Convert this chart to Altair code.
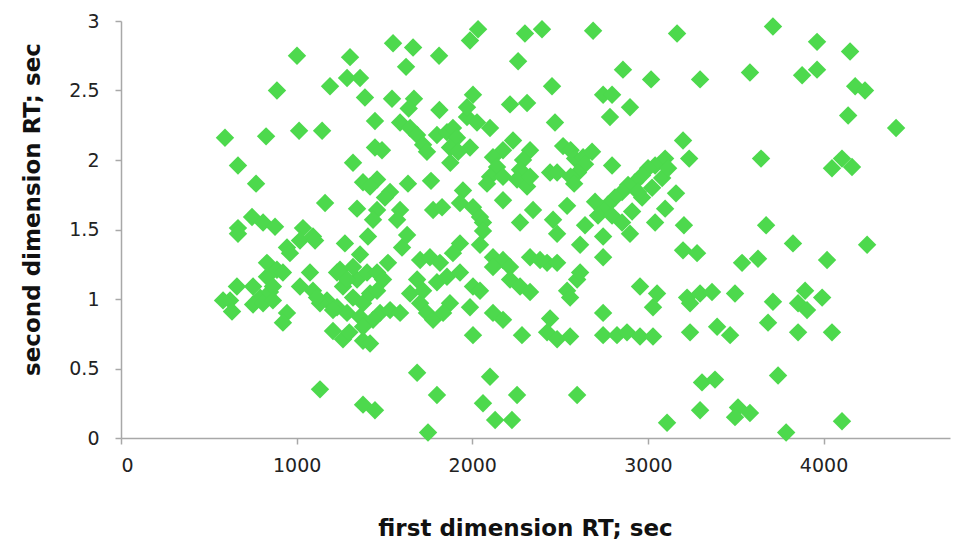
import altair as alt
import pandas as pd

# Response times: first dimension (x) and second dimension (y)
first_rt = [
    # upper-left region
    1549, 1663, 1811, 1002, 1304, 1623, 888, 1190, 1287, 1361, 1389, 1543, 1668, 1638, 1813, 1446,
    592, 826, 1014, 1145, 1446, 1486, 666, 1321, 1875,
    769, 1378, 1458, 1418, 1532, 1503, 1634, 1765, 1162, 1344, 1458, 1435, 1589, 1572, 1777, 1828,
    746, 666, 809, 877, 1036,
    1589, 1646, 1686, 1720, 1742, 1799, 1856, 1890, 1913, 1873,
    # centre cluster
    1970, 2027, 2101, 2471, 1987, 1920,
    2232, 2175, 2118, 2141, 2101, 2175, 2084, 2329, 2289, 2272, 2255, 2312, 2329, 2443, 2483,
    1947, 1930, 2004, 2044, 2175, 2346, 2272, 2460,
    1987, 2033, 2300, 2397, 2688, 3166, 2261, 2858, 3018, 2454, 2745, 2796, 2898, 2784, 2004, 1970,
    2215, 2312, 2061,
    2517, 2560, 2585, 2631, 2682, 2642, 2602, 2560, 2580,
    # right diagonal band
    2796, 3098, 3041, 3001, 2967, 2927, 2887, 2853, 2813, 2773, 2739, 2699, 2716, 2796, 2853, 2910,
    2967, 3024, 3081, 3115, 2944, 3160, 3098, 2540, 3041, 2642, 3200, 3235,
    # upper-right region
    3712, 3963, 4151, 3581, 3297, 3878, 3963, 4180, 4236, 4140, 4413, 3644, 4048, 4105, 4162, 3205, 3673,
    # lower-left region
    666, 660, 621, 581, 632, 752, 792, 752, 809, 848, 831, 831, 888, 922,
    945, 1019, 1093, 962, 1275, 1406, 1361, 1520, 1600, 1629, 1703, 1759, 1816, 865, 865, 945, 922,
    1076, 1019, 1093, 1173, 1230, 1287, 1230, 1264, 1344, 1401, 1458, 1321, 1378, 1361, 1492, 1475,
    1532, 1589, 1418,
    1686, 1646, 1703, 1742, 1777, 1799, 1856,
    1105, 1207, 1247, 1287, 1321, 1435, 1458, 1133, 1116, 1720,
    1207, 1264, 1300, 1378, 1418, 1378,
    1686, 1133, 1378, 1446, 1799, 1748,
    # lower-centre region
    2061, 2483, 2614, 2745, 2898, 3200, 1930, 1890, 2044, 2118, 2175, 2215, 2118, 2329, 2426, 2483,
    2386, 2745, 1930, 2004, 2044, 2215, 2272, 2329, 2540, 2597, 2614, 2557, 2955, 3052, 3029, 3223,
    1873, 1834, 1987, 2118, 2175, 2443, 2426, 2483, 2557, 2004, 2283, 2745, 2745, 2824, 2881, 2955,
    3029, 3240, 2101, 2061, 2255, 2597, 2130, 2226, 3109,
    # lower-right region
    3826, 4248, 3280, 3536, 3627, 4020, 3297, 3365, 3240, 3496, 3712, 3895, 3855, 3906, 3992, 3684,
    3394, 3468, 3855, 4048, 3308, 3382, 3741, 3297, 3513, 3581, 3496, 4105, 3787,
]

second_rt = [
    2.84, 2.81, 2.75, 2.75, 2.74, 2.67, 2.50, 2.53, 2.59, 2.59, 2.45, 2.44, 2.44, 2.37, 2.36, 2.28,
    2.16, 2.17, 2.21, 2.21, 2.09, 2.07, 1.96, 1.98, 1.98,
    1.83, 1.84, 1.86, 1.81, 1.77, 1.73, 1.83, 1.85, 1.69, 1.65, 1.64, 1.57, 1.64, 1.57, 1.64, 1.66,
    1.59, 1.51, 1.55, 1.52, 1.51,
    2.27, 2.23, 2.18, 2.11, 2.06, 2.18, 2.20, 2.23, 2.16, 2.09,
    2.31, 2.27, 2.23, 2.27, 2.09, 2.06,
    2.14, 2.07, 2.02, 1.95, 1.88, 1.88, 1.83, 2.07, 2.00, 1.93, 1.86, 1.81, 1.88, 1.91, 1.91,
    1.78, 1.69, 1.66, 1.59, 1.71, 1.64, 1.55, 1.57,
    2.86, 2.94, 2.91, 2.94, 2.93, 2.91, 2.71, 2.65, 2.58, 2.53, 2.47, 2.47, 2.38, 2.31, 2.47, 2.38,
    2.40, 2.41, 1.55,
    2.10, 2.07, 2.01, 2.02, 2.06, 1.97, 1.91, 1.88, 1.83,
    1.96, 2.01, 1.96, 1.94, 1.89, 1.84, 1.82, 1.77, 1.73, 1.68, 1.65, 1.70, 1.60, 1.60, 1.55, 1.63,
    1.73, 1.80, 1.87, 1.94, 1.77, 1.76, 1.65, 1.67, 1.55, 1.53, 2.14, 2.01,
    2.96, 2.85, 2.78, 2.63, 2.58, 2.61, 2.65, 2.53, 2.50, 2.32, 2.23, 2.01, 1.94, 2.01, 1.95, 1.53, 1.53,
    1.47, 1.09, 0.99, 0.99, 0.91, 1.09, 1.01, 0.96, 0.97, 1.05, 1.16, 1.26, 1.21, 1.19,
    1.37, 1.42, 1.45, 1.33, 1.40, 1.45, 1.32, 1.26, 1.37, 1.46, 1.28, 1.30, 1.26, 1.09, 0.99, 0.90, 0.83,
    1.19, 1.09, 1.06, 0.99, 0.94, 0.90, 1.19, 1.09, 1.14, 1.19, 1.19, 1.01, 0.97, 0.87, 1.14, 0.90,
    0.92, 0.90, 1.04,
    1.14, 1.04, 0.97, 0.90, 0.85, 1.12, 1.16,
    1.42, 0.92, 1.21, 1.14, 1.23, 0.85, 1.06, 0.97, 1.01, 1.06,
    0.77, 0.71, 0.76, 0.70, 0.68, 0.80,
    0.47, 0.35, 0.24, 0.20, 0.31, 0.04,
    1.49, 1.47, 1.39, 1.45, 1.47, 1.35, 1.40, 1.33, 1.39, 1.30, 1.28, 1.23, 1.23, 1.30, 1.26, 1.26,
    1.28, 1.30, 1.19, 1.09, 1.06, 1.14, 1.09, 1.05, 1.06, 1.14, 1.19, 1.01, 1.09, 1.04, 0.94, 1.01,
    0.97, 0.90, 0.94, 0.90, 0.85, 0.86, 0.76, 0.71, 0.73, 0.74, 0.74, 0.90, 0.74, 0.74, 0.76, 0.73,
    0.73, 0.76, 0.44, 0.25, 0.31, 0.31, 0.13, 0.13, 0.11,
    1.40, 1.39, 1.33, 1.26, 1.29, 1.28, 1.04, 1.05, 0.97, 1.04, 0.98, 1.06, 0.97, 0.92, 1.01, 0.83,
    0.80, 0.74, 0.76, 0.76, 0.40, 0.42, 0.45, 0.20, 0.22, 0.18, 0.15, 0.12, 0.04,
]

x_ticks = [0, 1000, 2000, 3000, 4000]
y_ticks = [0, 0.5, 1, 1.5, 2, 2.5, 3]

df = pd.DataFrame({"first": first_rt, "second": second_rt})

FONT = "DejaVu Sans"
AXIS_GREY = "#a8a8a8"

x_axis = alt.Axis(
    values=x_ticks, format="d", grid=False,
    title="first dimension RT; sec", titleFont=FONT, titleFontSize=23, titleFontWeight="bold",
    titleColor="#111111", titleX=404, titleY=90, titleBaseline="middle", titleAlign="center",
    labelFont=FONT, labelFontSize=19, labelColor="#222222", labelPadding=12,
    tickSize=6, tickColor=AXIS_GREY, tickWidth=1.5, domainColor=AXIS_GREY, domainWidth=1.5,
)

y_axis = alt.Axis(
    values=y_ticks, format=".1~f", grid=False,
    title="second dimension RT; sec", titleFont=FONT, titleFontSize=23, titleFontWeight="bold",
    titleColor="#111111", titleX=-89, titleY=188, titleAngle=-90, titleBaseline="middle",
    titleAlign="center",
    labelFont=FONT, labelFontSize=19, labelColor="#222222", labelPadding=16,
    tickSize=6, tickColor=AXIS_GREY, tickWidth=1.5, domainColor=AXIS_GREY, domainWidth=1.5,
)

chart = (
    alt.Chart(df)
    .mark_point(shape="diamond", filled=True, size=340, color="#4dd94d", opacity=1)
    .encode(
        x=alt.X("first:Q", scale=alt.Scale(domain=[0, 4720], nice=False, zero=False), axis=x_axis),
        y=alt.Y("second:Q", scale=alt.Scale(domain=[0, 3], nice=False), axis=y_axis),
    )
    .properties(
        width=829,
        height=417,
        padding={"left": 121, "top": 21, "right": 4, "bottom": 107},
        autosize=alt.AutoSizeParams(type="none"),
        background="white",
    )
    .configure_view(stroke=None)
)

chart.save("out.html", embed_options={"renderer": "svg", "actions": False})
